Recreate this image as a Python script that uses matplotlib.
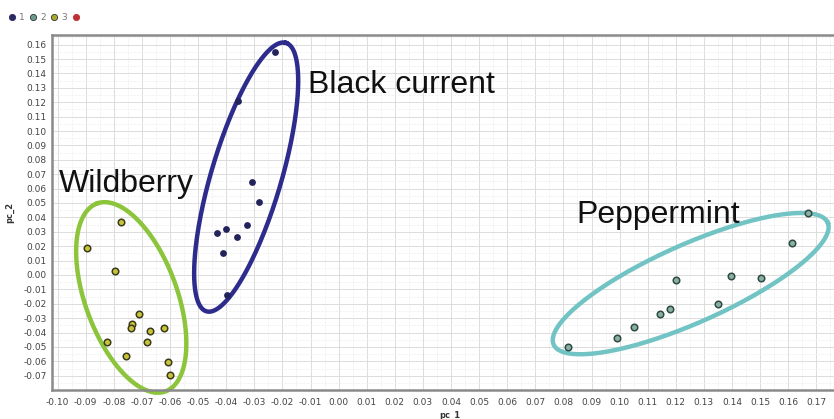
import numpy as np
import matplotlib
matplotlib.use("Agg")
import matplotlib.pyplot as plt
from matplotlib.lines import Line2D
from matplotlib.ticker import MultipleLocator, FormatStrFormatter

# PCA scores
black_x = [-0.0228, -0.0357, -0.0309, -0.0285, -0.0433, -0.0400, -0.0360, -0.0325, -0.0410, -0.0398]
black_y = [0.155, 0.121, 0.0644, 0.0509, 0.0294, 0.0317, 0.0262, 0.0347, 0.0155, -0.0139]

wild_x = [-0.0894, -0.0775, -0.0795, -0.0712, -0.0734, -0.0740, -0.0673, -0.0622, -0.0681, -0.0825,
          -0.0756, -0.0607, -0.0600]
wild_y = [0.0185, 0.037, 0.003, -0.0273, -0.0342, -0.0366, -0.0389, -0.0366, -0.0465, -0.0465,
          -0.0563, -0.0602, -0.0694]

pep_x = [0.1672, 0.1613, 0.120, 0.1397, 0.1502, 0.1349, 0.118, 0.1144, 0.1053, 0.099, 0.0818]
pep_y = [0.0433, 0.022, -0.0035, -0.0005, -0.0019, -0.0201, -0.0236, -0.0271, -0.0359, -0.0435, -0.0502]

# ellipses: center (data), semi axes (px), angle (deg, screen)
ell_black = (-0.0329, 0.068, 140, 35, 73.5)
ell_wild = (-0.0738, -0.0156, 100, 46, 110)
ell_pep = (0.1253, -0.006, 150, 39, 24)

legend_labels = ["1", "2", "3", ""]
legend_colors = ["#2a2a62", "#6a9a90", "#a8a830", "#c03030"]

W, H = 834, 419
fig = plt.figure(figsize=(W / 100, H / 100), dpi=100)
ax = fig.add_axes([52 / W, 1 - 390 / H, 1 - 52 / W, (390 - 35) / H])

ax.set_xlim(-0.102, 0.1763)
ax.set_ylim(-0.0799, 0.1667)

ax.xaxis.set_major_locator(MultipleLocator(0.01))
ax.yaxis.set_major_locator(MultipleLocator(0.01))
ax.xaxis.set_minor_locator(MultipleLocator(0.005))
ax.yaxis.set_minor_locator(MultipleLocator(0.005))
ax.xaxis.set_major_formatter(FormatStrFormatter('%.2f'))
ax.yaxis.set_major_formatter(FormatStrFormatter('%.2f'))
ax.grid(which='major', color='#dcdcdc', linewidth=0.7)
ax.grid(which='minor', color='#eeeeee', linewidth=0.5, linestyle='--')
ax.set_axisbelow(True)
ax.tick_params(which='both', length=0, labelsize=6.5, labelcolor='#444444', pad=6)
ax.tick_params(axis='y', pad=4)

for s in ['top', 'bottom', 'left']:
    ax.spines[s].set_color('#8a8a8a')
    ax.spines[s].set_linewidth(1.8)
ax.spines['right'].set_visible(False)

ax.set_xlabel('pc_1', fontsize=6, fontweight='bold', color='#333333', labelpad=2)
ax.xaxis.set_label_coords((450 - 52) / (W - 52), -0.06)
ax.set_ylabel('pc_2', fontsize=6, fontweight='bold', color='#333333', labelpad=6)

# pixel scale of the data
bbox = ax.get_window_extent()
sx = bbox.width / (ax.get_xlim()[1] - ax.get_xlim()[0])
sy = bbox.height / (ax.get_ylim()[1] - ax.get_ylim()[0])


def draw_ellipse(params, color):
    cx, cy, a, b, ang = params
    t = np.linspace(0, 2 * np.pi, 300)
    r = np.deg2rad(ang)
    px = a * np.cos(t) * np.cos(r) - b * np.sin(t) * np.sin(r)
    py = a * np.cos(t) * np.sin(r) + b * np.sin(t) * np.cos(r)
    ax.plot(cx + px / sx, cy + py / sy, color=color, linewidth=3.2, zorder=2, clip_on=False)


draw_ellipse(ell_black, '#2d2b8c')
draw_ellipse(ell_wild, '#8cc43c')
draw_ellipse(ell_pep, '#72c4c4')

ax.scatter(black_x, black_y, s=15, color='#23235c', zorder=3)
ax.scatter(wild_x, wild_y, s=22, facecolor='#c8c43a', edgecolor='#3a3a1c', linewidth=1.1, zorder=3)
ax.scatter(pep_x, pep_y, s=22, facecolor='#8ab0a2', edgecolor='#2f4a44', linewidth=1.1, zorder=3)

ax.text((308 - 338.5) / sx, (275 - 92.7) / sy, 'Black current', fontsize=23,
        family='Liberation Sans', color='#111111', va='baseline', ha='left', zorder=4)
ax.text((58.3 - 338.5) / sx, (275 - 191.7) / sy, 'Wildberry', fontsize=23,
        family='Liberation Sans', color='#111111', va='baseline', ha='left', zorder=4)
ax.text((576.7 - 338.5) / sx, (275 - 223.3) / sy, 'Peppermint', fontsize=23,
        family='Liberation Sans', color='#111111', va='baseline', ha='left', zorder=4)

# legend row at the top left
xs = [12, 33, 54, 76]
for x0, lab, col in zip(xs, legend_labels, legend_colors):
    fig.add_artist(Line2D([x0 / W], [1 - 17 / H], marker='o', markersize=4.5,
                          color=col, markeredgecolor='#333333' if lab in ('2', '3') else col,
                          markeredgewidth=0.6, linestyle='none'))
    if lab:
        fig.text((x0 + 7) / W, 1 - 17 / H, lab, fontsize=6.5, color='#777777', va='center')

fig.savefig('out.png', dpi=100)
